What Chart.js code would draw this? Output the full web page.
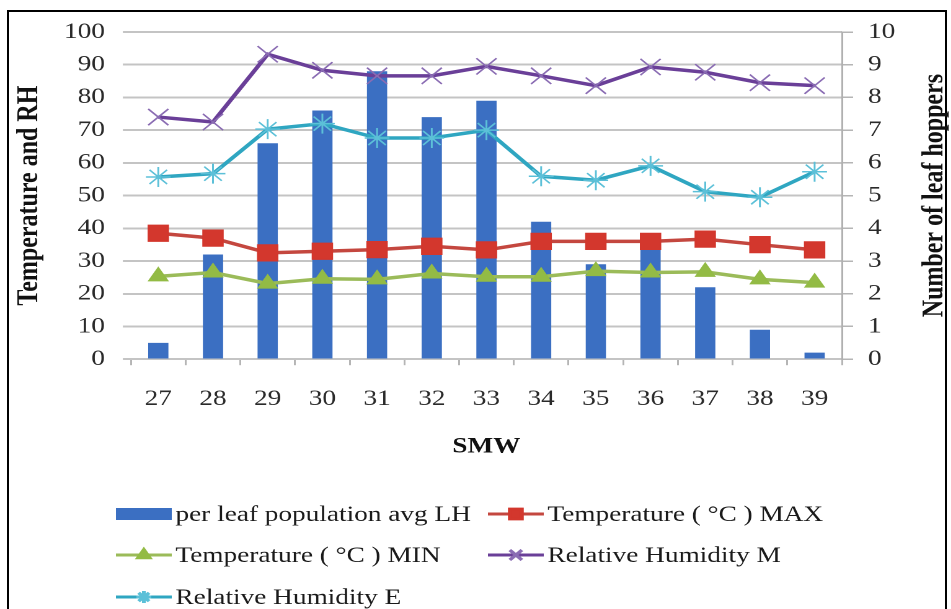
<!DOCTYPE html>
<html>
<head>
<meta charset="utf-8">
<script src="https://cdn.jsdelivr.net/npm/chart.js@4/dist/chart.umd.min.js"></script>
<style>
html, body { margin: 0; padding: 0; background: #fff; overflow: hidden; }
#frame { position: absolute; left: 7px; top: 10px; width: 936px; height: 640px; border: 2px solid #000; }
/* the source picture is stretched sideways, so the canvas is too */
#chart { position: absolute; left: 0; top: 0; transform: scaleX(1.24); transform-origin: 0 0; }
</style>
</head>
<body>
<div id="frame"></div>
<canvas id="chart" width="767" height="609"></canvas>
<script>
const weeks = ['27', '28', '29', '30', '31', '32', '33', '34', '35', '36', '37', '38', '39'];
const leafHoppers = [0.5, 3.2, 6.6, 7.6, 8.8, 7.4, 7.9, 4.2, 2.9, 3.8, 2.2, 0.9, 0.2];
const tempMax = [38.5, 37, 32.5, 33, 33.5, 34.5, 33.4, 36, 36, 36, 36.7, 35, 33.4];
const tempMin = [25.3, 26.5, 23.1, 24.6, 24.4, 26.2, 25.2, 25.2, 26.9, 26.5, 26.7, 24.4, 23.4];
const rhMorning = [74, 72.5, 93.2, 88.3, 86.6, 86.6, 89.5, 86.6, 83.6, 89.3, 87.7, 84.5, 83.6];
const rhEvening = [55.7, 56.7, 70.3, 72, 67.6, 67.6, 70, 55.9, 54.7, 59.1, 51.2, 49.5, 57.3];

const leftTicks = { min: 0, max: 100, step: 10 };
const rightTicks = { min: 0, max: 10, step: 1 };
const rightTitle = 'Number of leaf hoppers';

const serif = '"Liberation Serif", "Times New Roman", serif';
const gridGrey = '#c4c4c4';

const canvas = document.querySelector('#chart');
const W = canvas.width;

// legend slots like the Excel legend: two columns, three rows
const legendCols = [93.5, 393.5];
const legendRows = [514, 555, 597];

const extras = {
  id: 'extras',
  afterDraw(chart) {
    const c = chart.ctx;
    const a = chart.chartArea;

    // right title reads bottom to top, as the left one
    c.save();
    c.font = 'bold 24px ' + serif;
    c.fillStyle = '#111';
    c.textAlign = 'center';
    c.textBaseline = 'middle';
    c.translate(754, (a.top + a.bottom) / 2);
    c.rotate(-Math.PI / 2);
    c.fillText(rightTitle, 0, 0);
    c.restore();

    // legend
    chart.data.datasets.forEach((ds, i) => {
      const x = legendCols[i % 2];
      const y = legendRows[Math.floor(i / 2)];
      c.save();
      if (ds.type === 'bar') {
        c.fillStyle = ds.backgroundColor;
        c.fillRect(x, y - 6, 45, 12);
      } else {
        c.strokeStyle = ds.borderColor;
        c.lineWidth = 3;
        c.beginPath();
        c.moveTo(x, y);
        c.lineTo(x + 45, y);
        c.stroke();
        c.fillStyle = ds.pointBackgroundColor;
        c.strokeStyle = ds.pointBorderColor;
        Chart.helpers.drawPoint(c, {
          pointStyle: ds.pointStyle, rotation: 0,
          radius: ds.pointRadius * 0.6, borderWidth: ds.pointBorderWidth
        }, x + 22.5, y);
      }
      c.font = '22px ' + serif;
      c.fillStyle = '#1a1a1a';
      c.textAlign = 'left';
      c.textBaseline = 'middle';
      c.fillText(ds.label, x + 48, y + 1);
      c.restore();
    });
  }
};

new Chart(canvas.getContext('2d'), {
  data: {
    labels: weeks,
    datasets: [
      {
        type: 'bar', label: 'per leaf population avg LH', data: leafHoppers, yAxisID: 'yR',
        backgroundColor: '#3b6fc2', barPercentage: 0.37, categoryPercentage: 1, order: 2
      },
      {
        type: 'line', label: 'Temperature ( °C ) MAX', data: tempMax, yAxisID: 'yL',
        borderColor: '#c4473f', borderWidth: 3.5, pointStyle: 'rect', pointRadius: 11.5,
        pointBackgroundColor: '#d3372d', pointBorderColor: '#d3372d', pointBorderWidth: 1, order: 1
      },
      {
        type: 'line', label: 'Temperature ( °C ) MIN', data: tempMin, yAxisID: 'yL',
        borderColor: '#9bbb59', borderWidth: 3.5, pointStyle: 'triangle', pointRadius: 9,
        pointBackgroundColor: '#93bb45', pointBorderColor: '#93bb45', pointBorderWidth: 1, order: 1
      },
      {
        type: 'line', label: 'Relative Humidity M', data: rhMorning, yAxisID: 'yL',
        borderColor: '#6a3f98', borderWidth: 3.5, pointStyle: 'crossRot', pointRadius: 11.5,
        pointBackgroundColor: '#8a6cb3', pointBorderColor: '#8a6cb3', pointBorderWidth: 1.5, order: 1
      },
      {
        type: 'line', label: 'Relative Humidity E', data: rhEvening, yAxisID: 'yL',
        borderColor: '#2fa6c1', borderWidth: 3.5, pointStyle: 'star', pointRadius: 10,
        pointBackgroundColor: '#5cc0d8', pointBorderColor: '#5cc0d8', pointBorderWidth: 1.5, order: 1
      }
    ]
  },
  options: {
    responsive: false,
    devicePixelRatio: 2,
    animation: false,
    layout: { padding: { top: 32, bottom: 145, left: 0, right: 0 } },
    plugins: { legend: { display: false }, tooltip: { enabled: false } },
    scales: {
      x: {
        offset: true,
        grid: { display: true, drawOnChartArea: false, offset: true, tickLength: 6, color: '#b5b5b5', lineWidth: 1.5 },
        border: { display: false },
        ticks: { font: { family: serif, size: 22 }, color: '#2a2a2a', padding: 21 },
        title: {
          display: true, text: 'SMW', color: '#111',
          font: { family: serif, size: 22, weight: 'bold' }, padding: { top: 0, bottom: 4 }
        }
      },
      yL: {
        position: 'left', min: leftTicks.min, max: leftTicks.max,
        ticks: { stepSize: leftTicks.step, font: { family: serif, size: 22 }, color: '#2a2a2a', padding: 14.5 },
        grid: { color: gridGrey, lineWidth: 2, tickLength: 6.5 },
        border: { display: false },
        title: {
          display: true, text: 'Temperature and RH', color: '#111',
          font: { family: serif, size: 24, weight: 'bold' }, padding: { top: 9.6, bottom: 0 }
        },
        afterFit(s) { s.width = 105.6; }
      },
      yR: {
        position: 'right', min: rightTicks.min, max: rightTicks.max,
        ticks: { stepSize: rightTicks.step, font: { family: serif, size: 22 }, color: '#2a2a2a', padding: 12 },
        grid: { drawOnChartArea: false, tickLength: 9, color: '#b5b5b5', lineWidth: 1.5 },
        border: { display: true, color: '#b0b0b0', width: 1.5 },
        afterFit(s) { s.width = W - 679; }
      }
    }
  },
  plugins: [extras]
});
</script>
</body>
</html>
